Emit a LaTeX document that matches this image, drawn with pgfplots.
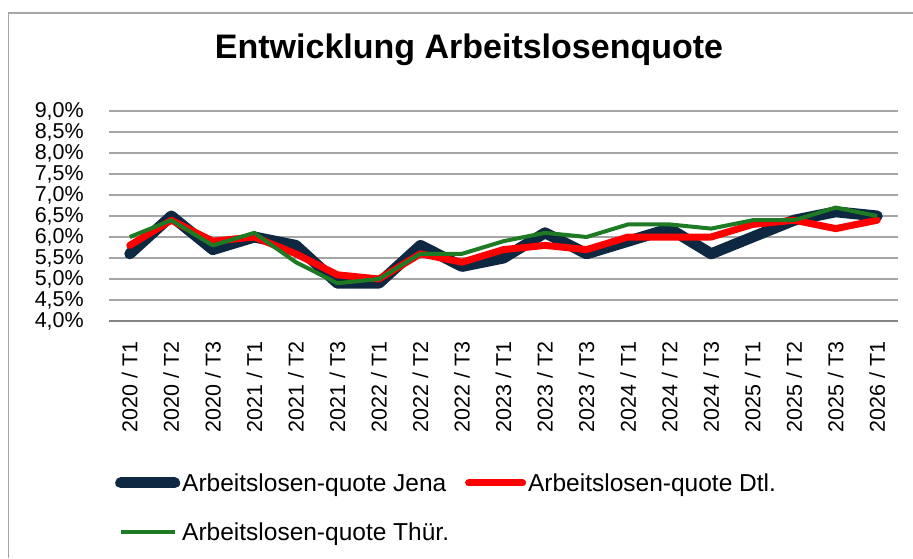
\documentclass[border=0pt]{standalone}
\usepackage{pgfplots}
\pgfplotsset{compat=1.18}
\usepackage{pgfplotstable}
\usepackage{fontspec}
\setmainfont{Liberation Sans}

\definecolor{jena}{HTML}{0E2841}
\definecolor{dtl}{HTML}{FF0000}
\definecolor{thuer}{HTML}{1E7B23}
\definecolor{gridgray}{HTML}{A6A6A6}

% Quoten in Prozent, idx = Quartal ab 2020 / T1
\pgfplotstableread{
idx jena dtl thuer
0  5.6 5.8 6.0
1  6.5 6.4 6.4
2  5.7 5.9 5.8
3  6.0 6.0 6.1
4  5.8 5.6 5.4
5  4.9 5.1 4.9
6  4.9 5.0 5.0
7  5.8 5.6 5.6
8  5.3 5.4 5.6
9  5.5 5.7 5.9
10 6.1 5.8 6.1
11 5.6 5.7 6.0
12 5.9 6.0 6.3
13 6.2 6.0 6.3
14 5.6 6.0 6.2
15 6.0 6.3 6.4
16 6.4 6.4 6.4
17 6.6 6.2 6.7
18 6.5 6.4 6.5
}\quoten

\begin{document}
\begin{tikzpicture}
\path[use as bounding box] (0pt,0pt) rectangle (913pt,-558pt);
\draw[gridgray, line width=1.5pt] (8.5pt,-558pt) -- (8.5pt,-13pt) -- (913pt,-13pt);
\node[font=\bfseries\fontsize{34}{34}\selectfont] at (469pt,-50pt) {Entwicklung Arbeitslosenquote};

\begin{axis}[
    at={(109pt,-321pt)}, anchor=south west,
    scale only axis,
    width=789pt, height=210pt,
    xmin=-0.5, xmax=18.5,
    ymin=4, ymax=9,
    ytick={4,4.5,...,9},
    xtick={0,...,18},
    xticklabels={2020 / T1,2020 / T2,2020 / T3,2021 / T1,2021 / T2,2021 / T3,
        2022 / T1,2022 / T2,2022 / T3,2023 / T1,2023 / T2,2023 / T3,
        2024 / T1,2024 / T2,2024 / T3,2025 / T1,2025 / T2,2025 / T3,2026 / T1},
    major tick length=0pt,
    axis line style={draw=none},
    ymajorgrids,
    grid style={gridgray, line width=1.3pt},
    /pgf/number format/assume math mode=true,
    yticklabel={\pgfmathprintnumber[fixed,fixed zerofill,precision=1,use comma]{\tick}\%},
    yticklabel style={font=\fontsize{21.5}{21.5}\selectfont, anchor=east, inner sep=0pt, xshift=-25pt},
    xticklabel style={font=\fontsize{21.5}{21.5}\selectfont, rotate=90, anchor=east, inner sep=0pt, xshift=-20pt},
    legend columns=2,
    legend cell align=left,
    legend style={at={(rel axis cs:0.0076,-0.715)}, anchor=north west,
        draw=none, fill=none, inner sep=0pt,
        font=\fontsize{24.5}{24.5}\selectfont,
        nodes={inner sep=2pt},
        /tikz/every even column/.append style={column sep=14pt},
        row sep=26pt},
    legend image code/.code={\draw[#1] (0pt,0pt) -- (54pt,0pt);},
    clip=false,
]
\draw[gridgray!80!black, line width=1.3pt] (rel axis cs:0,0) -- (rel axis cs:1,0);
\addplot[jena, line width=11pt, line cap=round, line join=round] table[x=idx, y=jena] {\quoten};
\addlegendentry{Arbeitslosen-quote Jena}
\addplot[dtl, line width=7pt, line cap=round, line join=round] table[x=idx, y=dtl] {\quoten};
\addlegendentry{Arbeitslosen-quote Dtl.}
\addplot[thuer, line width=4pt, line join=round] table[x=idx, y=thuer] {\quoten};
\addlegendentry{Arbeitslosen-quote Thür.}
\end{axis}
\end{tikzpicture}
\end{document}
